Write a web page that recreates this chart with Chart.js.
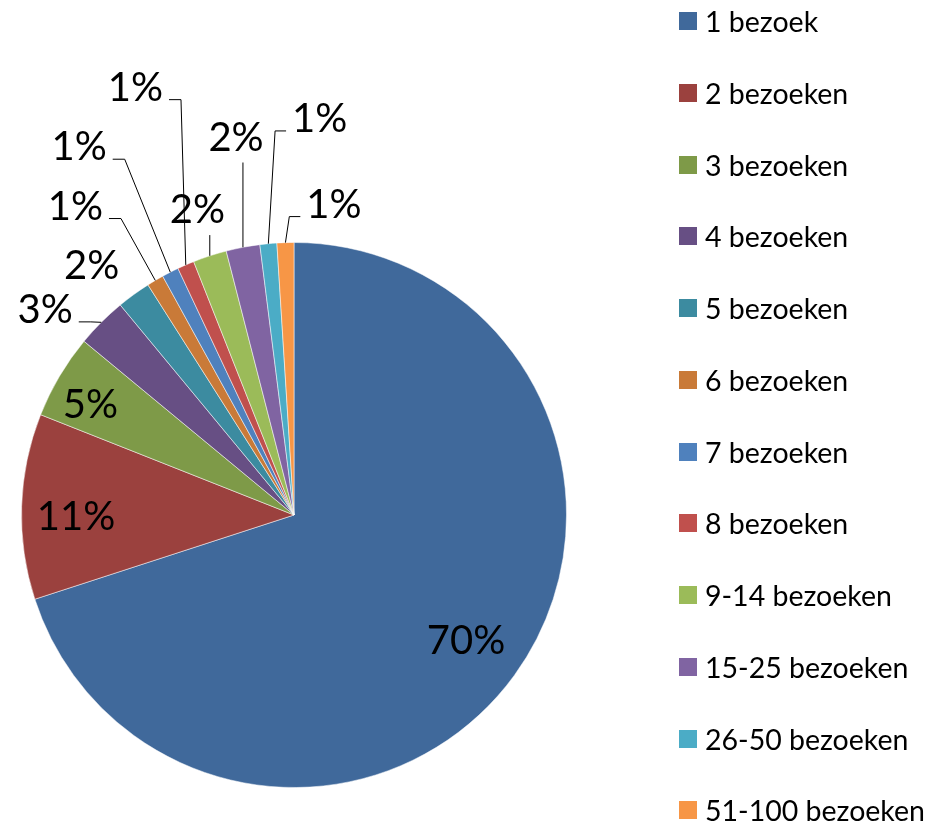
<!DOCTYPE html>
<html>
<head>
<meta charset="utf-8">
<title>Bezoeken</title>
<script src="https://cdn.jsdelivr.net/npm/chart.js@4.4.1/dist/chart.umd.min.js"></script>
<style>
    html, body { margin: 0; padding: 0; background: #fff; }
    #wrap { position: relative; width: 940px; height: 822px; }
    #pieChart { position: absolute; left: 0; top: 0; }
    #legend { position: absolute; left: 679px; top: -14.9px; margin: 0; padding: 0; list-style: none;
              font-family: Lato, 'Open Sans', sans-serif; font-size: 28.5px; color: #000; }
    #legend li { display: flex; align-items: center; height: 71.77px; white-space: nowrap; }
    #legend .box { width: 18px; height: 18px; margin-right: 8px; flex: none; }
</style>
</head>
<body>
<div id="wrap">
    <canvas id="pieChart" width="940" height="822"></canvas>
    <ul id="legend"></ul>
</div>
<script>
// Categories and values (percent of visitors)
const categories = ['1 bezoek', '2 bezoeken', '3 bezoeken', '4 bezoeken', '5 bezoeken', '6 bezoeken',
    '7 bezoeken', '8 bezoeken', '9-14 bezoeken', '15-25 bezoeken', '26-50 bezoeken', '51-100 bezoeken'];
const shares = [70, 11, 5, 3, 2, 1, 1, 1, 2, 2, 1, 1];

const sliceColors = ['#40699B', '#9B413E', '#7E9A48', '#674F84', '#3C8BA0', '#C97A38',
    '#4F81BD', '#C0504D', '#9BBB59', '#8064A2', '#4BACC6', '#F79646'];

// Label placement per slice: [angle shift from slice middle (deg), distance as part of radius]
const labelPlace = [[0, 0.78], [-1.8, 0.80], [-1.8, 0.853], [-5.3, 1.187], [-2.9, 1.183], [-4.6, 1.392],
    [-3.2, 1.568], [3.1, 1.678], [0.5, 1.179], [2.1, 1.407], [9.1, 1.462], [9.1, 1.154]];

const labelFont = '40px Lato, "Open Sans", sans-serif';

// Draws the percentage labels and their leader lines
const pieLabels = {
    id: 'pieLabels',
    afterDatasetsDraw(chart) {
        const ctx = chart.ctx;
        const meta = chart.getDatasetMeta(0);
        const data = chart.data.datasets[0].data;
        const total = data.reduce((a, b) => a + b, 0);
        ctx.save();
        ctx.font = labelFont;
        ctx.fillStyle = '#000';
        ctx.strokeStyle = '#000';
        ctx.lineWidth = 1;
        ctx.textAlign = 'center';
        ctx.textBaseline = 'alphabetic';
        meta.data.forEach((arc, i) => {
            const p = arc.getProps(['x', 'y', 'startAngle', 'endAngle', 'outerRadius'], true);
            const mid = (p.startAngle + p.endAngle) / 2;
            const a = mid + labelPlace[i][0] * Math.PI / 180;
            const r = p.outerRadius * labelPlace[i][1];
            const cx = p.x + Math.cos(a) * r;
            const cy = p.y + Math.sin(a) * r;
            const text = Math.round(data[i] / total * 100) + '%';
            const w = ctx.measureText(text).width;
            const capH = 29;
            ctx.fillText(text, cx, cy + capH / 2);

            if (labelPlace[i][1] <= 1) return;
            // leader line from label box to the slice edge
            const ax = p.x + Math.cos(mid) * p.outerRadius;
            const ay = p.y + Math.sin(mid) * p.outerRadius;
            const left = cx - w / 2, right = cx + w / 2, top = cy - capH / 2, bottom = cy + capH / 2;
            // no line when the label sits right next to its slice
            const gx = Math.max(0, ax - (right + 5), (left - 5) - ax);
            const gy = Math.max(0, ay - (bottom + 5), (top - 5) - ay);
            if (Math.hypot(gx, gy) < 15) return;
            ctx.beginPath();
            if (ax > right + 8) {
                const sx = right + 6, ly = bottom - 1;
                ctx.moveTo(sx, ly);
                ctx.lineTo(Math.min(sx + 12, ax), ly);
                ctx.lineTo(ax, ay);
            } else if (ax < left - 8) {
                const sx = left - 6, ly = bottom - 1;
                ctx.moveTo(sx, ly);
                ctx.lineTo(Math.max(sx - 11, ax), ly);
                ctx.lineTo(ax, ay);
            } else {
                const sy = bottom + 12;
                if (ay - sy < 8) return;
                ctx.moveTo(ax, sy);
                ctx.lineTo(ax, ay);
            }
            ctx.stroke();
        });
        ctx.restore();
    }
};

// Builds the legend as a list beside the chart
const htmlLegend = {
    id: 'htmlLegend',
    afterUpdate(chart) {
        const list = document.getElementById('legend');
        list.innerHTML = '';
        chart.options.plugins.legend.labels.generateLabels(chart).forEach(item => {
            const li = document.createElement('li');
            li.innerHTML = `<span class="box" style="background:${item.fillStyle}"></span><span>${item.text}</span>`;
            list.appendChild(li);
        });
    }
};

new Chart(document.getElementById('pieChart'), {
    type: 'pie',
    data: {
        labels: categories,
        datasets: [{
            data: shares,
            backgroundColor: sliceColors,
            borderColor: 'rgba(255,255,255,0.5)',
            borderWidth: 1
        }]
    },
    options: {
        responsive: false,
        animation: false,
        layout: { padding: { left: 21, right: 373, top: 242, bottom: 34 } },
        plugins: {
            legend: { display: false },
            tooltip: { enabled: false }
        }
    },
    plugins: [pieLabels, htmlLegend]
});
</script>
</body>
</html>
